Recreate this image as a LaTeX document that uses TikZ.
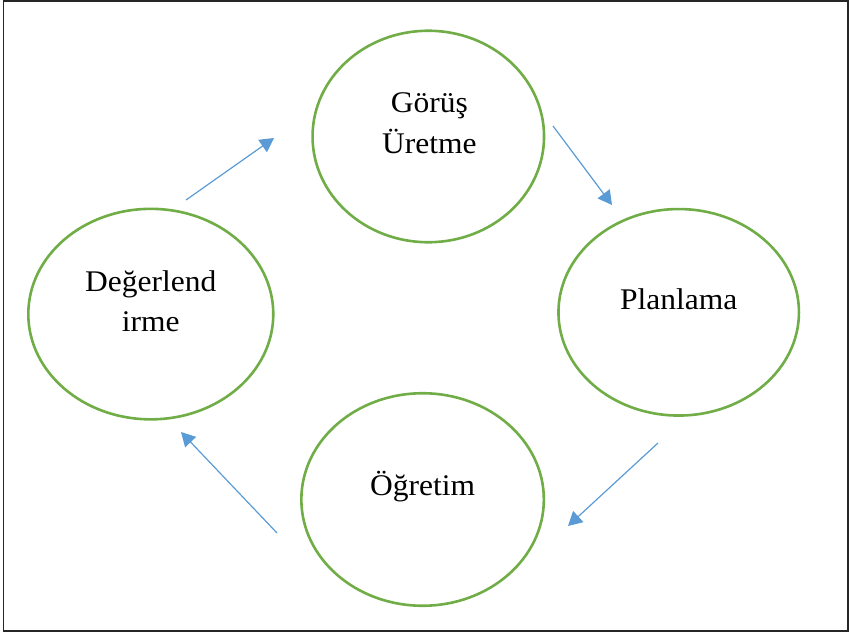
\documentclass[tikz,border=0pt]{standalone}
\usepackage{fontspec}
\setmainfont{Liberation Serif}[FakeStretch=1.05]
\usepackage{xcolor}
\usetikzlibrary{arrows.meta,shapes.geometric}
\definecolor{ringgreen}{HTML}{70AD47}
\definecolor{arrowblue}{HTML}{5B9BD5}
\tikzset{
  ring/.style={draw=ringgreen,line width=2.6pt,ellipse,inner sep=0pt},
  lbl/.style={font=\fontsize{30}{40.5}\selectfont,align=center,anchor=base,inner sep=0pt},
  flow/.style={draw=arrowblue,line width=1.2pt,-{Triangle[length=14pt,width=15pt]}}
}
\begin{document}
\begin{tikzpicture}[x=1pt,y=-1pt]
\useasboundingbox (0,0) rectangle (849,634);

%frame
\draw [line width=1.6pt,color=black!85] (3.5,1) rectangle (848,631);

%rings
\node [ring,minimum width=231.5pt,minimum height=211.5pt] (gu) at (428.3,136.5) {};
\node [ring,minimum width=240.5pt,minimum height=206.5pt] (pl) at (678.7,312.3) {};
\node [ring,minimum width=242.5pt,minimum height=212.5pt] (og) at (422.6,499.5) {};
\node [ring,minimum width=245pt,minimum height=210.5pt] (dg) at (150.8,314.1) {};

%texts
\node [lbl] (gu-t) at ([yshift=-16.8pt,xshift=1pt]gu.center) {Görüş\\Üretme};
\node [lbl] (pl-t) at ([yshift=3.3pt]pl.center) {Planlama};
\node [lbl] (og-t) at ([yshift=4.5pt]og.center) {Öğretim};
\node [lbl] (dg-t) at ([yshift=-17.6pt]dg.center) {Değerlend\\irme};

%arrow ends
\coordinate (a1) at (186,200);
\coordinate (b1) at (274,138);
\coordinate (a2) at (553,126);
\coordinate (b2) at (612,205);
\coordinate (a3) at (658,443);
\coordinate (b3) at (568,526);
\coordinate (a4) at (277,533);
\coordinate (b4) at (181,432);

%arrows
\draw [flow] (a1) -- (b1);
\draw [flow] (a2) -- (b2);
\draw [flow] (a3) -- (b3);
\draw [flow] (a4) -- (b4);
\end{tikzpicture}
\end{document}
